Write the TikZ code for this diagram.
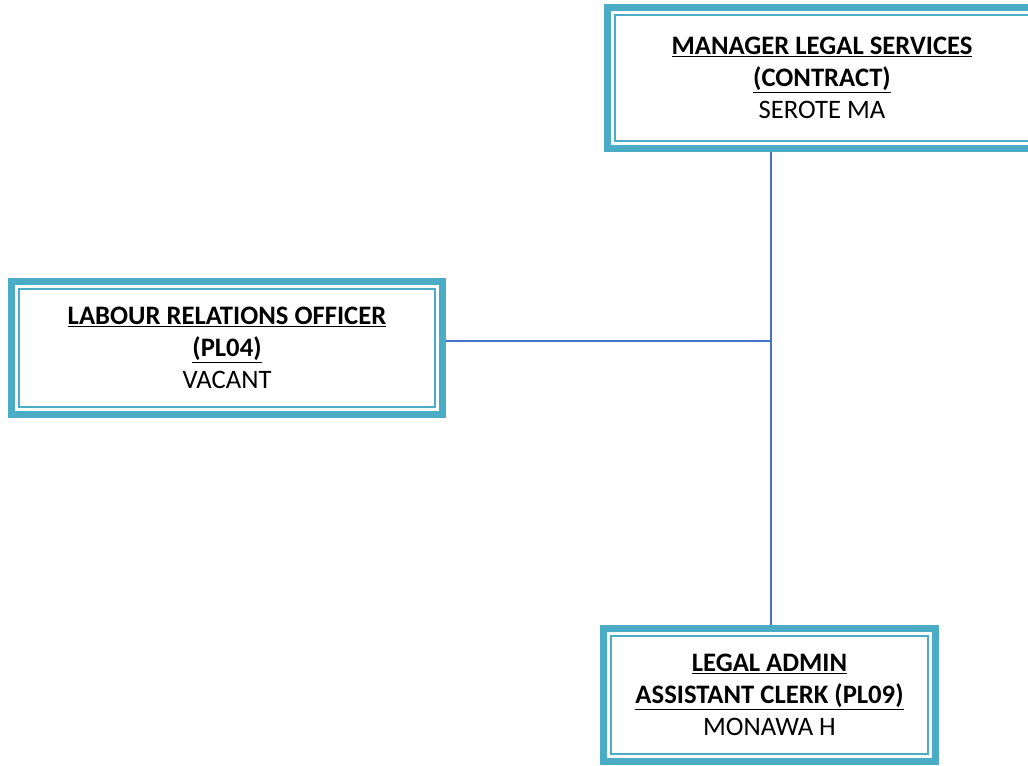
\documentclass[tikz,border=0pt]{standalone}
\usepackage{fontspec}
\setmainfont{Carlito}
\definecolor{FrameTeal}{RGB}{75, 172, 198}
\definecolor{LinkBlue}{RGB}{68, 114, 196}
\usetikzlibrary{positioning, calc}

\begin{document}
\begin{tikzpicture}[x=0.75pt, y=-0.75pt,
        orgbox/.style={rectangle, draw=FrameTeal, line width=5.25pt, fill=white, align=center,
            font=\fontsize{20pt}{24pt}\selectfont,
            path picture={\draw[FrameTeal, line width=1.5pt]
                ([shift={(5.6pt,-5.6pt)}]path picture bounding box.north west) rectangle
                ([shift={(-5.6pt,5.6pt)}]path picture bounding box.south east);}},
        link/.style={LinkBlue, line width=1.1pt}
    ]
        \useasboundingbox (0,0) rectangle (1028,765);

        % Manager
        \node[orgbox, minimum width=321.75pt, minimum height=105.75pt] (mgr) at (822, 78)
            {\underline{\textbf{MANAGER LEGAL SERVICES}}\\ \underline{\textbf{(CONTRACT)}}\\ SEROTE MA};

        % Labour relations
        \node[orgbox, minimum width=323.25pt, minimum height=99.75pt] (lro) at (227, 348)
            {\underline{\textbf{LABOUR RELATIONS OFFICER}}\\ \underline{\textbf{(PL04)}}\\ VACANT};

        % Legal admin
        \node[orgbox, minimum width=249pt, minimum height=99.75pt] (clerk) at (769.5, 695)
            {\underline{\textbf{LEGAL ADMIN}}\\ \underline{\textbf{ASSISTANT CLERK (PL09)}}\\ MONAWA H};

        % Connectors
        \coordinate (jn) at (771, 341);
        \draw[link] (jn |- mgr.south) -- (jn |- clerk.north);
        \draw[link] (jn -| lro.east) -- (jn);
    \end{tikzpicture}
\end{document}
